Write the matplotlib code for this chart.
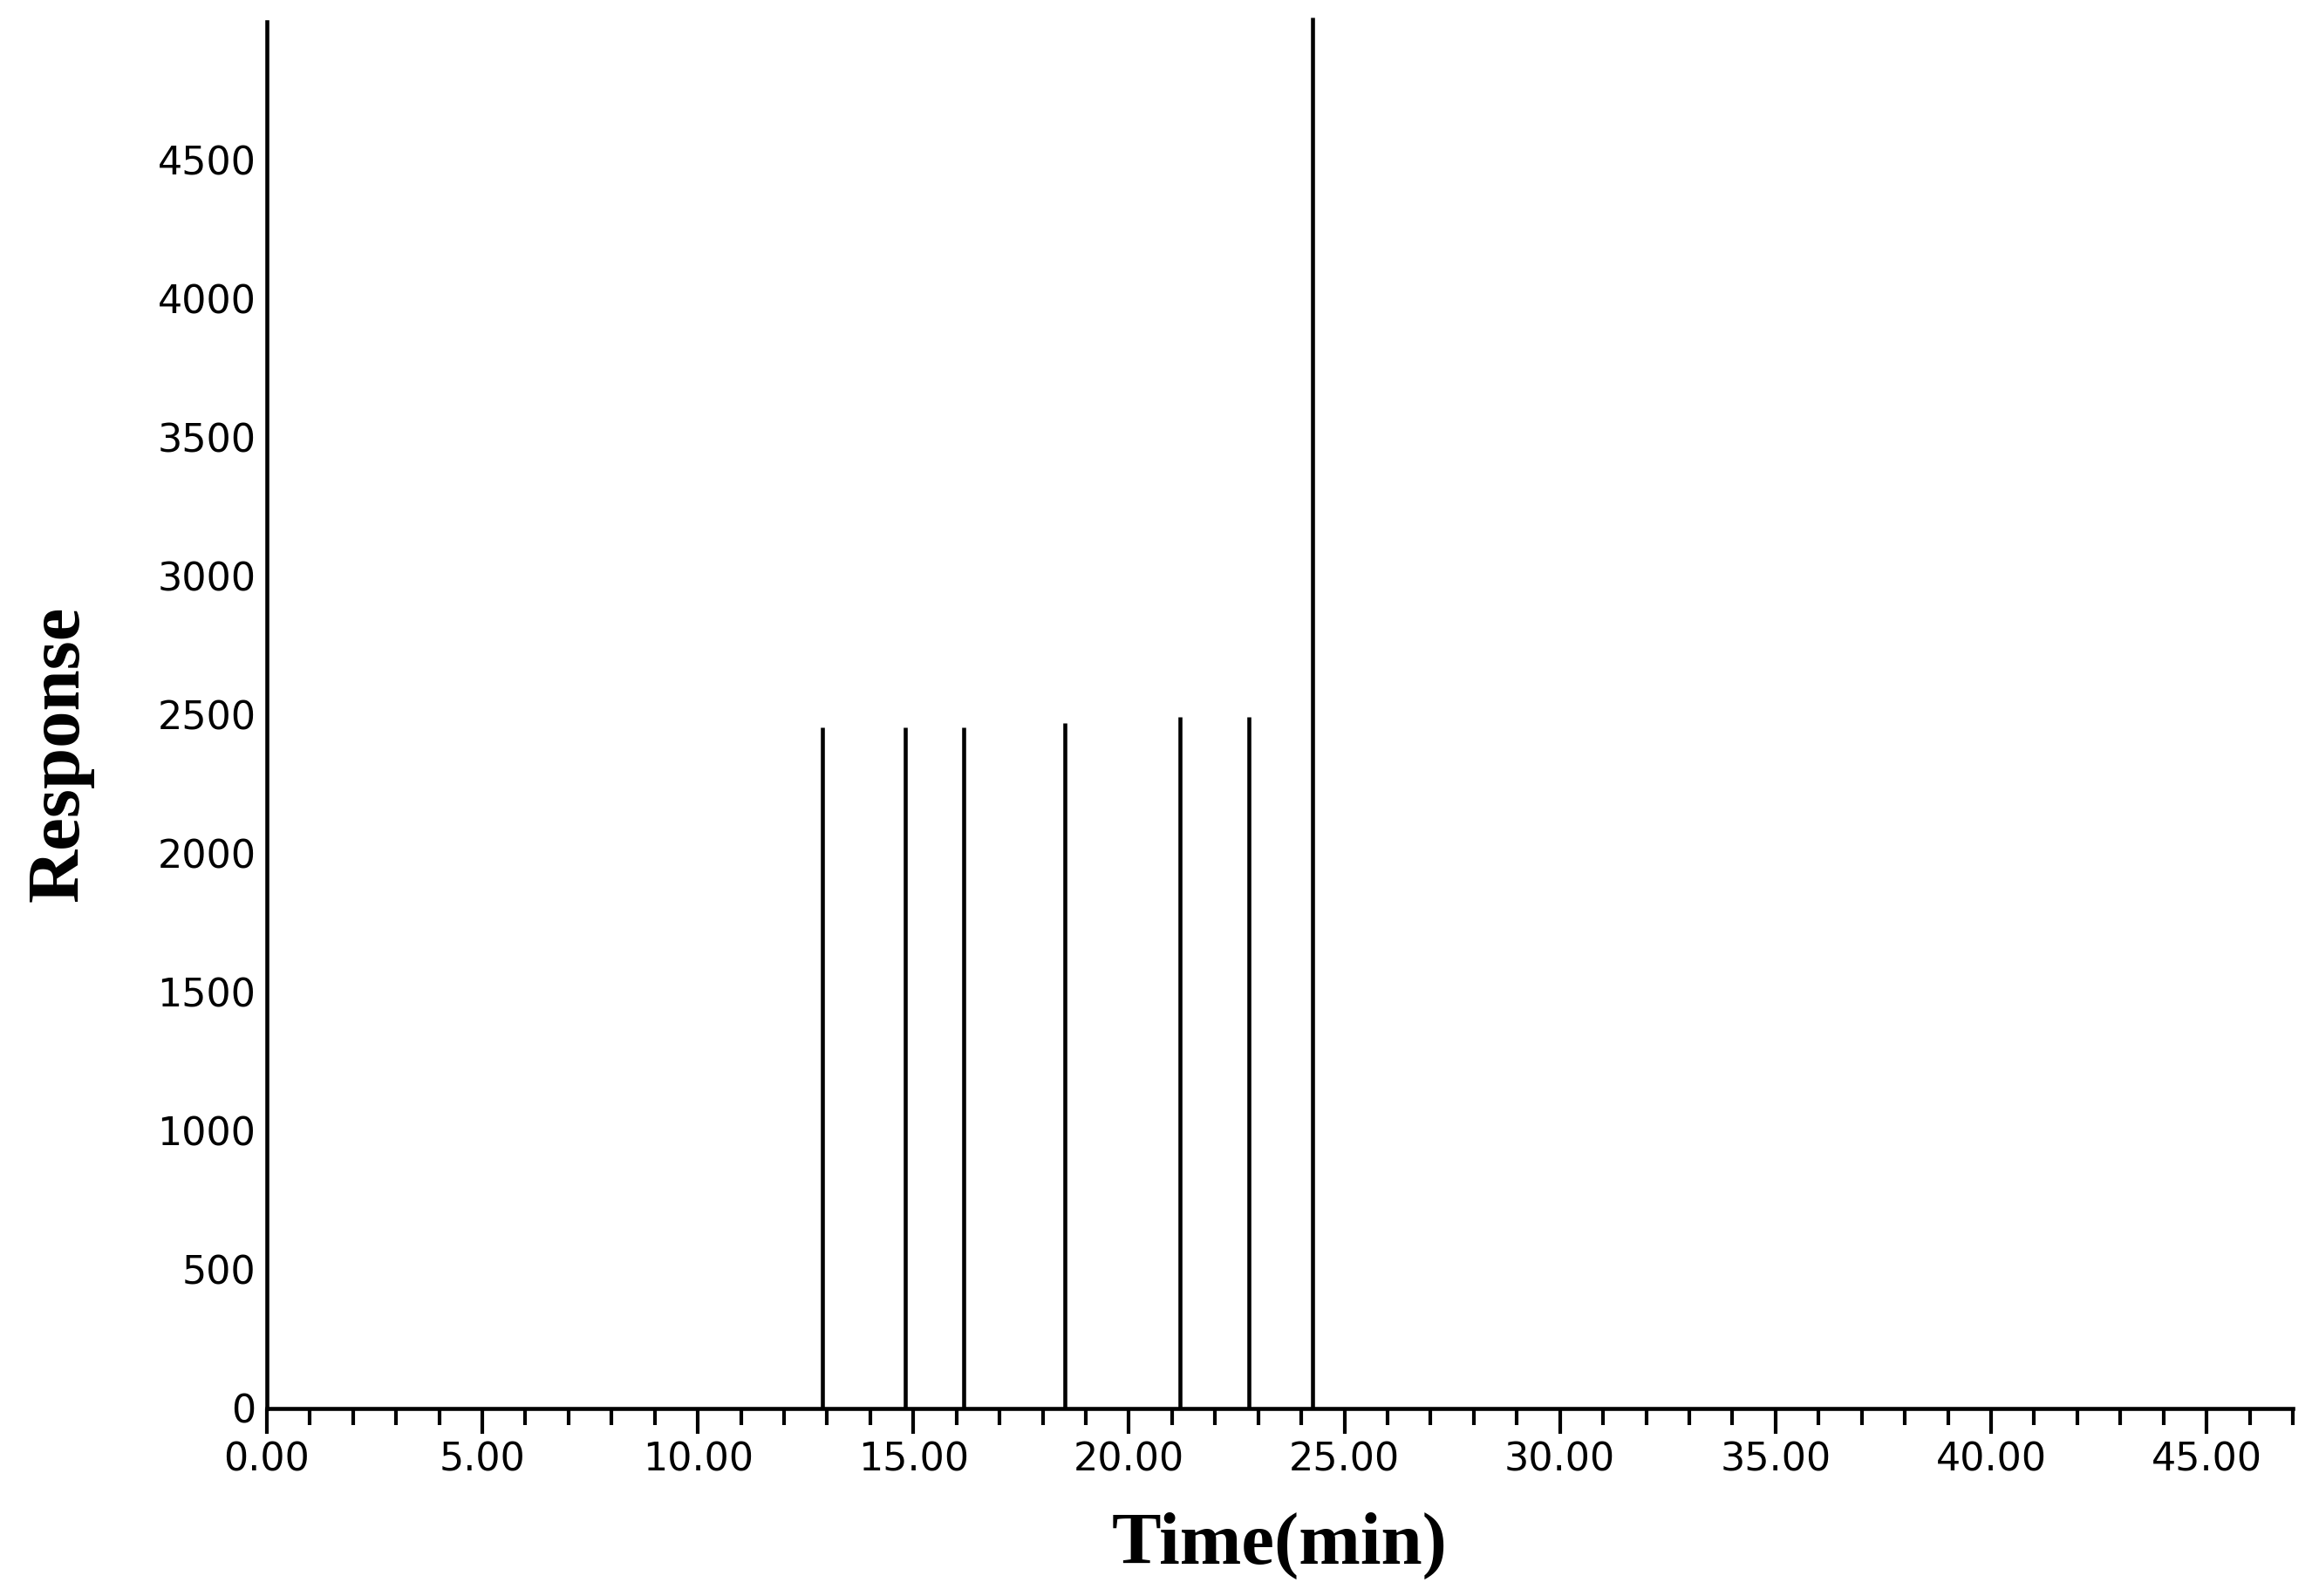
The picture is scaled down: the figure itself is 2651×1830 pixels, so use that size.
import numpy as np
import matplotlib
matplotlib.use("Agg")
import matplotlib.pyplot as plt
import matplotlib.ticker as ticker

# retention times (min) of each peak
peak_times = [12.88, 14.81, 16.16, 18.52, 21.19, 22.79, 24.26]
# response of each peak
peak_heights = [2455, 2455, 2455, 2470, 2495, 2495, 5015]

x_max = 47.0
y_max = 5000
y_ticks = list(range(0, 5000, 500))
x_ticks = list(range(0, 50, 5))

fig = plt.figure(figsize=(26.51, 18.30), dpi=100)
ax = fig.add_axes([0.1154, 0.1175, 0.8763, 0.8689])

# draw each peak as a vertical line from the baseline
ax.vlines(peak_times, 0, peak_heights, color='black', linewidth=3.3, clip_on=False)

ax.set_xlim(0, x_max)
ax.set_ylim(0, y_max)

ax.spines['top'].set_visible(False)
ax.spines['right'].set_visible(False)
ax.spines['left'].set_linewidth(3.3)
ax.spines['bottom'].set_linewidth(3.3)

ax.xaxis.set_major_locator(ticker.FixedLocator(x_ticks))
ax.xaxis.set_minor_locator(ticker.MultipleLocator(1))
ax.xaxis.set_major_formatter(ticker.FormatStrFormatter('%.2f'))
ax.yaxis.set_major_locator(ticker.FixedLocator(y_ticks))

ax.tick_params(axis='x', which='major', direction='out', length=21, width=3,
               labelsize=32, pad=6)
ax.tick_params(axis='x', which='minor', direction='out', length=14, width=3)
ax.tick_params(axis='y', which='major', length=0, labelsize=32, pad=9)

ax.set_xlabel('Time(min)', fontfamily='Liberation Serif', fontweight='bold', fontsize=61)
ax.xaxis.set_label_coords(0.5, -0.075)
ax.set_ylabel('Response', fontfamily='Liberation Serif', fontweight='bold', fontsize=61,
              va='center')
ax.yaxis.set_label_coords(-0.102, 0.472)

plt.savefig('out.png', dpi=100)
